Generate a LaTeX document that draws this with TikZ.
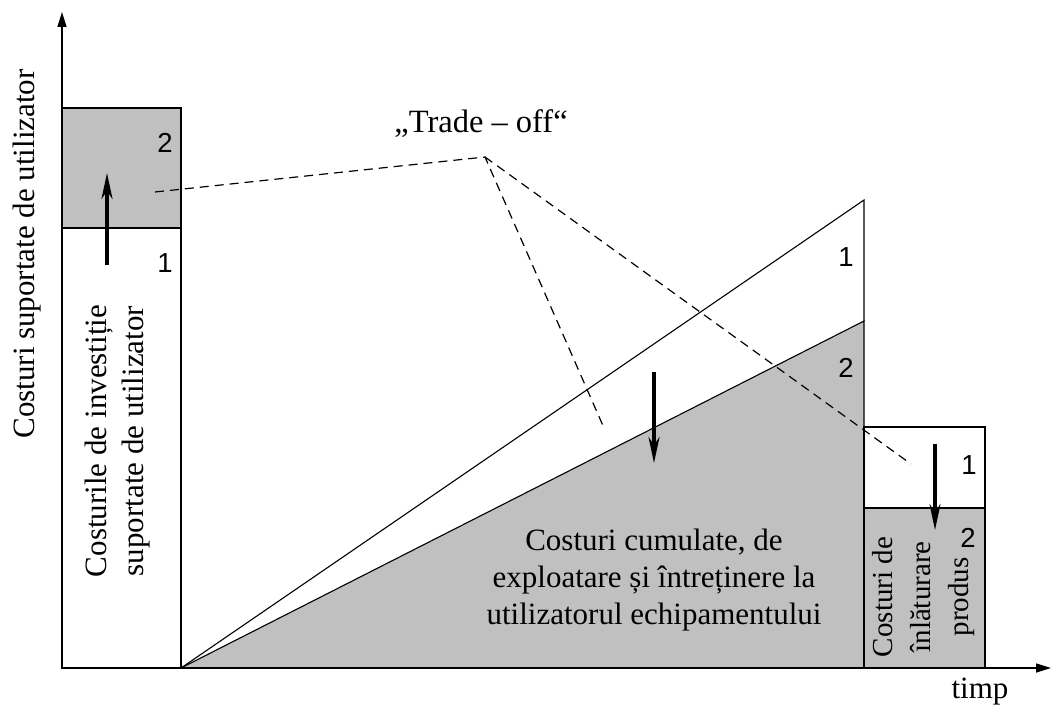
\documentclass[tikz,border=0pt]{standalone}
\usepackage{fontspec}
\setmainfont{Liberation Serif}
\newfontfamily\numfont{Liberation Sans}
\usetikzlibrary{arrows.meta}
\definecolor{costgray}{HTML}{C0C0C0}

\begin{document}
\begin{tikzpicture}[x=1pt, y=-1pt,
    box/.style={draw, line width=1.2pt},
    slope/.style={line width=1.1pt},
    axis/.style={line width=1.6pt, -{Triangle[length=15pt, width=9pt]}},
    trend/.style={line width=3.4pt, -{Stealth[length=26pt, width=11pt, inset=8pt]}},
    tradeoff/.style={line width=1.2pt, dash pattern=on 9pt off 6pt},
    txt/.style={font=\fontsize{31}{37}\selectfont, align=center, inner sep=0pt},
    num/.style={font=\numfont\fontsize{27.5}{32}\selectfont, inner sep=0pt},
]
\useasboundingbox (0,0) rectangle (1051,709);

% Investment bar (left)
\draw[box, fill=costgray] (62,108) rectangle (181,228);
\draw[box] (62,228) rectangle (181,668);
\node[num] (inv2) at (165,143) {2};
\node[num] (inv1) at (165,263) {1};
\node[txt, rotate=90] (invtext) at (118,441)
  {Costurile de investiție\\suportate de utilizator};

% Cumulated operating costs
\draw[slope, fill=costgray] (181,668) -- (864,321) -- (864,668) -- cycle;
\draw[slope] (181,668) -- (864,200) -- (864,321);
\node[num] (op1) at (846,257) {1};
\node[num] (op2) at (846,368) {2};
\node[txt] (optext) at (654,580)
  {Costuri cumulate, de\\exploatare și întreținere la\\utilizatorul echipamentului};

% Disposal bar (right)
\draw[box] (864,427) rectangle (985,508);
\draw[box, fill=costgray] (864,508) rectangle (985,668);
\node[num] (disp1) at (969,465) {1};
\node[num] (disp2) at (968,538) {2};
\node[txt, rotate=90, font=\fontsize{29}{38}\selectfont] (disptext) at (924,597)
  {Costuri de\\înlăturare\\produs};

% Axes
\coordinate (origin) at (62,668);
\draw[axis] (origin) -- (62,12);
\draw[axis] (origin) -- (1051,668);
\node[txt, rotate=90] (ylabel) at (27,254) {Costuri suportate de utilizator};
\node[txt] (xlabel) at (980,692) {timp};

% Shift arrows
\coordinate (invfrom) at (107,265);
\coordinate (invto) at (107,173);
\coordinate (opfrom) at (654,372);
\coordinate (opto) at (654,463);
\coordinate (dispfrom) at (935,444);
\coordinate (dispto) at (935,530);
\draw[trend] (invfrom) -- (invto);
\draw[trend] (opfrom) -- (opto);
\draw[trend] (dispfrom) -- (dispto);

% Trade-off
\node[txt, font=\fontsize{32.5}{38}\selectfont] (trade) at (481,124) {„Trade – off“};
\coordinate (apex) at (485,157);
\coordinate (tinv) at (155,192);
\coordinate (top) at (604,428);
\coordinate (tdisp) at (911,464);
\draw[tradeoff] (tinv) -- (apex) -- (top);
\draw[tradeoff] (apex) -- (tdisp);
\end{tikzpicture}
\end{document}
